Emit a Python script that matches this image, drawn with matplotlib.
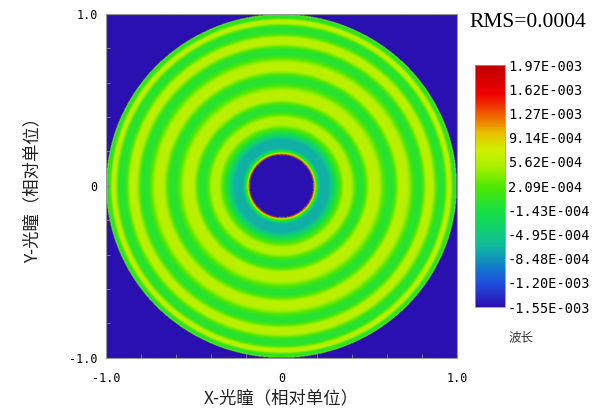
import numpy as np
import matplotlib
matplotlib.use("Agg")
import matplotlib.pyplot as plt
from matplotlib.colors import LinearSegmentedColormap

plt.rcParams['font.family'] = ['Noto Sans CJK SC', 'DejaVu Sans']

# radial wavefront profile (pupil radius, wave error in waves)
radius = [0.000, 0.181, 0.183, 0.189, 0.198, 0.220, 0.270, 0.310,
          0.360, 0.395, 0.435, 0.465, 0.505, 0.550, 0.605, 0.635,
          0.675, 0.715, 0.765, 0.795, 0.830, 0.860, 0.895, 0.925,
          0.950, 0.965, 0.982, 0.992, 1.000]
wave = [-1.55e-3, -1.55e-3, 1.97e-3, 8.0e-4, 1.0e-4, -7.0e-4, -7.0e-4, -1.5e-4,
        5.5e-4, 5.5e-4, -5.0e-5, -5.0e-5, 6.0e-4, 6.0e-4, -5.0e-5, -5.0e-5,
        6.0e-4, 6.0e-4, -5.0e-5, -5.0e-5, 6.0e-4, 6.0e-4, -5.0e-5, -5.0e-5,
        6.0e-4, 6.0e-4, -5.0e-5, -5.0e-5, 5.0e-4]
obscuration = 0.181

cbar_ticks = [-1.55e-3, -1.20e-3, -8.48e-4, -4.95e-4, -1.43e-4, 2.09e-4,
              5.62e-4, 9.14e-4, 1.27e-3, 1.62e-3, 1.97e-3]
cbar_labels = ['-1.55E-003', '-1.20E-003', '-8.48E-004', '-4.95E-004', '-1.43E-004',
               '2.09E-004', '5.62E-004', '9.14E-004', '1.27E-003', '1.62E-003', '1.97E-003']
vmin, vmax = cbar_ticks[0], cbar_ticks[-1]

cmap = LinearSegmentedColormap.from_list('zmx', [
    (0.00, '#2a10b0'), (0.10, '#2050e0'), (0.17, '#1080c8'), (0.25, '#10b8a0'),
    (0.32, '#10d070'), (0.40, '#18e040'), (0.50, '#50e800'), (0.58, '#a8f000'),
    (0.65, '#d0f000'), (0.72, '#e8c000'), (0.78, '#f07000'), (0.88, '#f00000'),
    (1.00, '#c00000')])

n = 700
g = np.linspace(-1, 1, n)
X, Y = np.meshgrid(g, g)
R = np.hypot(X, Y)
Z = np.interp(R, radius, wave)
Z[(R > 1.0) | (R < obscuration)] = vmin

fig = plt.figure(figsize=(6.02, 4.20), dpi=100)
ax = fig.add_axes([0.176, 0.148, 0.583, 0.819])
ax.imshow(Z, cmap=cmap, vmin=vmin, vmax=vmax, extent=[-1, 1, -1, 1],
          origin='lower', interpolation='bilinear', aspect='auto')
ax.set_xlim(-1, 1)
ax.set_ylim(-1, 1)

mono = {'family': 'DejaVu Sans Mono', 'size': 8.5}
ax.set_xticks([-1, 0, 1])
ax.set_xticklabels(['-1.0', '0', '1.0'], fontdict=mono)
ax.set_yticks([-1, 0, 1])
ax.set_yticklabels(['-1.0', '0', '1.0'], fontdict=mono)
ax.set_xticks(np.arange(-0.8, 0.81, 0.2), minor=True)
ax.set_yticks(np.arange(-0.8, 0.81, 0.2), minor=True)
ax.tick_params(which='both', direction='in', color='#888888', length=3, width=0.6)
ax.tick_params(axis='x', which='major', pad=10)
ax.tick_params(axis='y', which='major', pad=6)
for s in ax.spines.values():
    s.set_color('#999999')
    s.set_linewidth(0.8)

ax.set_xlabel('X-光瞳（相对单位）', fontsize=12.5, color='#222222', labelpad=3)
ax.set_ylabel('Y-光瞳（相对单位）', fontsize=12.5, color='#222222', labelpad=20)

cax = fig.add_axes([0.789, 0.269, 0.050, 0.576])
sm = plt.cm.ScalarMappable(cmap=cmap, norm=plt.Normalize(vmin, vmax))
cb = fig.colorbar(sm, cax=cax, ticks=cbar_ticks)
cb.ax.set_yticklabels(cbar_labels, fontdict={'family': 'DejaVu Sans Mono', 'size': 9.8})
cb.ax.tick_params(length=0, pad=2)
cb.outline.set_edgecolor('#999999')
cb.outline.set_linewidth(0.6)

fig.text(0.779, 0.936, 'RMS=0.0004', family='Liberation Serif', fontsize=15.5)
fig.text(0.844, 0.188, '波长', fontsize=9, color='#333333')

fig.savefig('out.png', dpi=100)
